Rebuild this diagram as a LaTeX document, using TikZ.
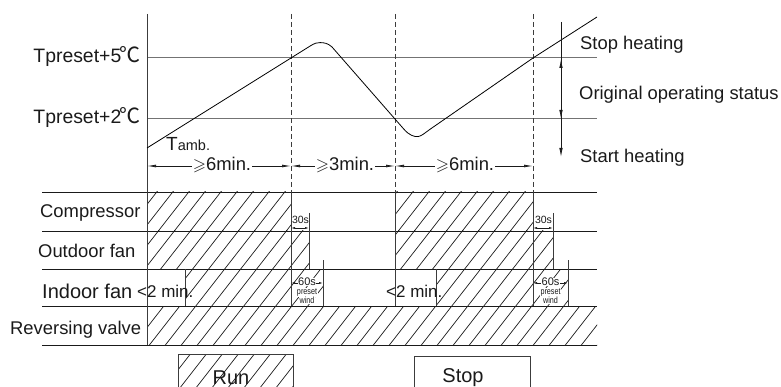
\documentclass[tikz,border=0pt]{standalone}
\usepackage{fontspec}
\setmainfont{Liberation Sans}
\newfontfamily\cjkf{Noto Sans CJK SC}
\usepackage{amssymb}
\usetikzlibrary{arrows.meta}
\definecolor{ink}{HTML}{1A1A1A}
\newcommand\hatchrect[4]{%
  \begin{scope}
    \clip (#1,#2) rectangle (#3,#4);
    \foreach \k in {-22,...,50}
      \draw[hatchline] ({\k*16-5.5},400) -- ({\k*16-5.5+312},0);
  \end{scope}}
\newcommand\degc{{\cjkf\fontsize{21}{21}\selectfont\kern-1.5pt ℃}}
\begin{document}
\begin{tikzpicture}[x=1pt,y=-1pt,
  lbl/.style={font=\fontsize{18.4}{20}\selectfont, inner sep=0pt, text=ink},
  rowline/.style={draw=ink, line width=0.9pt},
  tline/.style={draw=black!55, line width=1pt},
  vsolid/.style={draw=ink!85, line width=0.9pt},
  vdash/.style={draw=ink!85, line width=0.9pt, dash pattern=on 5pt off 3pt},
  hatchline/.style={draw=ink, line width=0.7pt},
  dimarrow/.style={draw=ink, line width=0.7pt, {Latex[length=9pt,width=2.8pt]}-{Latex[length=9pt,width=2.8pt]}},
  smallarrow/.style={draw=ink, line width=0.6pt, {Latex[length=4pt,width=2pt]}-{Latex[length=4pt,width=2pt]}},
  varrow/.style={draw=ink, line width=0.8pt, -{Latex[length=9pt,width=3.5pt]}},
  curve/.style={draw=black, line width=0.8pt},
  dimtext/.style={fill=white, inner sep=1pt, text=ink, font=\fontsize{18.4}{20}\selectfont},
  tinytext/.style={fill=white, inner sep=0.5pt, text=ink},
]
\useasboundingbox (0,0) rectangle (781,387);

% hatched blocks
\hatchrect{147}{192}{291}{231}
\hatchrect{147}{231}{309}{269}
\hatchrect{185}{269}{323}{306}
\hatchrect{395}{192}{533}{231}
\hatchrect{395}{231}{553}{269}
\hatchrect{436}{269}{568}{306}
\hatchrect{147}{306}{597}{345}
\hatchrect{178}{354}{293}{395}

% row lines
\foreach \yy in {192,231,269,306,345}
  \draw[rowline] (42,\yy) -- (597,\yy);

% temperature levels
\draw[tline] (147,58) -- (597,58);
\draw[tline] (147,119) -- (597,119);

% axis and time marks
\draw[vsolid] (147,14) -- (147,345);
\foreach \xx in {291,395,533}{
  \draw[vdash] (\xx,14) -- (\xx,192);
  \draw[vsolid] (\xx,192) -- (\xx,306);
}
\draw[vsolid] (309,213) -- (309,269);
\draw[vsolid] (323,260) -- (323,306);
\draw[vsolid] (185,269) -- (185,306);
\draw[vsolid] (553,213) -- (553,269);
\draw[vsolid] (568,260) -- (568,306);
\draw[vsolid] (436,269) -- (436,306);

% legend boxes
\draw[vsolid] (178,395) -- (178,354) -- (293,354) -- (293,395);
\draw[vsolid] (414,395) -- (414,356) -- (530,356) -- (530,395);

% temperature curve
\draw[curve] (147,148) -- (310,46.1)
  .. controls (315,43) and (317,42.6) .. (320,42.6)
  .. controls (324,42.6) and (328,43.2) .. (332,47)
  -- (404,129.3)
  .. controls (409,135) and (414,137) .. (418,136.6)
  .. controls (422,136) and (426,132) .. (430,129.3)
  -- (533,58) -- (597,17);

% right status arrow
\coordinate (ra0) at (561,22);
\coordinate (ra1) at (561,157);
\coordinate (ra2) at (561,59);
\coordinate (ra3) at (561,119);
\draw[varrow] (ra0) -- (ra1);
\draw[varrow] (ra3) -- (ra2);
\draw[varrow] (ra2) -- (ra3);

% duration dimensions
\coordinate (d0) at (147,166);
\coordinate (d1) at (291,166);
\coordinate (d2) at (395,166);
\coordinate (d3) at (533,166);
\draw[dimarrow] (d0) -- (d1);
\draw[dimarrow] (d1) -- (d2);
\draw[dimarrow] (d2) -- (d3);
\node[dimtext] (m1) at (222,165) {{\fontsize{17}{17}\selectfont$\geqslant$}6min.};
\node[dimtext] (m2) at (345,165) {{\fontsize{17}{17}\selectfont$\geqslant$}3min.};
\node[dimtext] (m3) at (465,165) {{\fontsize{17}{17}\selectfont$\geqslant$}6min.};

% 30s dimensions
\coordinate (a30l) at (291,228);
\coordinate (a30r) at (309,228);
\coordinate (b30l) at (533,228);
\coordinate (b30r) at (553,228);
\draw[smallarrow] (a30l) -- (a30r);
\draw[smallarrow] (b30l) -- (b30r);
\node[inner sep=0, text=ink, font=\fontsize{10.5}{11}\selectfont, anchor=base] (s30a) at (300.5,224) {30s};
\node[inner sep=0, text=ink, font=\fontsize{10.5}{11}\selectfont, anchor=base] (s30b) at (543.5,224) {30s};

% 60s dimensions
\coordinate (a60l) at (291,283);
\coordinate (a60r) at (323,283);
\coordinate (b60l) at (533,283);
\coordinate (b60r) at (568,283);
\draw[smallarrow] (a60l) -- (a60r);
\draw[smallarrow] (b60l) -- (b60r);
\node[tinytext, font=\fontsize{11}{11}\selectfont] (s60a) at (307,282) {60s};
\node[tinytext, font=\fontsize{11}{11}\selectfont] (s60b) at (550.5,282) {60s};
\node[tinytext, font=\fontsize{9}{9}\selectfont] (pa) at (307,292.5) {\scalebox{0.8}[1]{preset}};
\node[tinytext, font=\fontsize{9}{9}\selectfont] (wa) at (307,300) {\scalebox{0.8}[1]{wind}};
\node[tinytext, font=\fontsize{9}{9}\selectfont] (pb) at (550.5,292.5) {\scalebox{0.8}[1]{preset}};
\node[tinytext, font=\fontsize{9}{9}\selectfont] (wb) at (550.5,300) {\scalebox{0.8}[1]{wind}};

% left labels
\node[lbl, font=\fontsize{19.4}{20}\selectfont, anchor=base east] (t5) at (141,63) {Tpreset+5\degc};
\node[lbl, font=\fontsize{19.4}{20}\selectfont, anchor=base east] (t2) at (141,124) {Tpreset+2\degc};
\node[lbl, anchor=base west] (tamb) at (166,151) {{\fontsize{19}{20}\selectfont T}{\fontsize{14.5}{16}\selectfont amb.}};

\node[lbl, anchor=base west] (comp) at (40,218) {Compressor};
\node[lbl, anchor=base west] (ofan) at (38,258) {Outdoor fan};
\node[lbl, font=\fontsize{20}{22}\selectfont, anchor=base west] (ifan) at (42,298) {Indoor fan};
\node[lbl, font=\fontsize{17}{18}\selectfont, anchor=base west] (lt1) at (137,297) {<2 min.};
\node[lbl, font=\fontsize{17}{18}\selectfont, anchor=base west] (lt2) at (386,297) {<2 min.};
\node[lbl, anchor=base west] (rv) at (10,334) {Reversing valve};

% right labels
\node[lbl, anchor=base west] (sh) at (580,50) {Stop heating};
\node[lbl, anchor=base west] (oos) at (579,100) {Original operating status};
\node[lbl, anchor=base west] (sth) at (580,163) {Start heating};

% legend
\node[lbl, font=\fontsize{20}{20}\selectfont, anchor=base] (run) at (231,384) {Run};
\node[lbl, font=\fontsize{20}{20}\selectfont, anchor=base] (stop) at (463,382) {Stop};
\end{tikzpicture}
\end{document}
